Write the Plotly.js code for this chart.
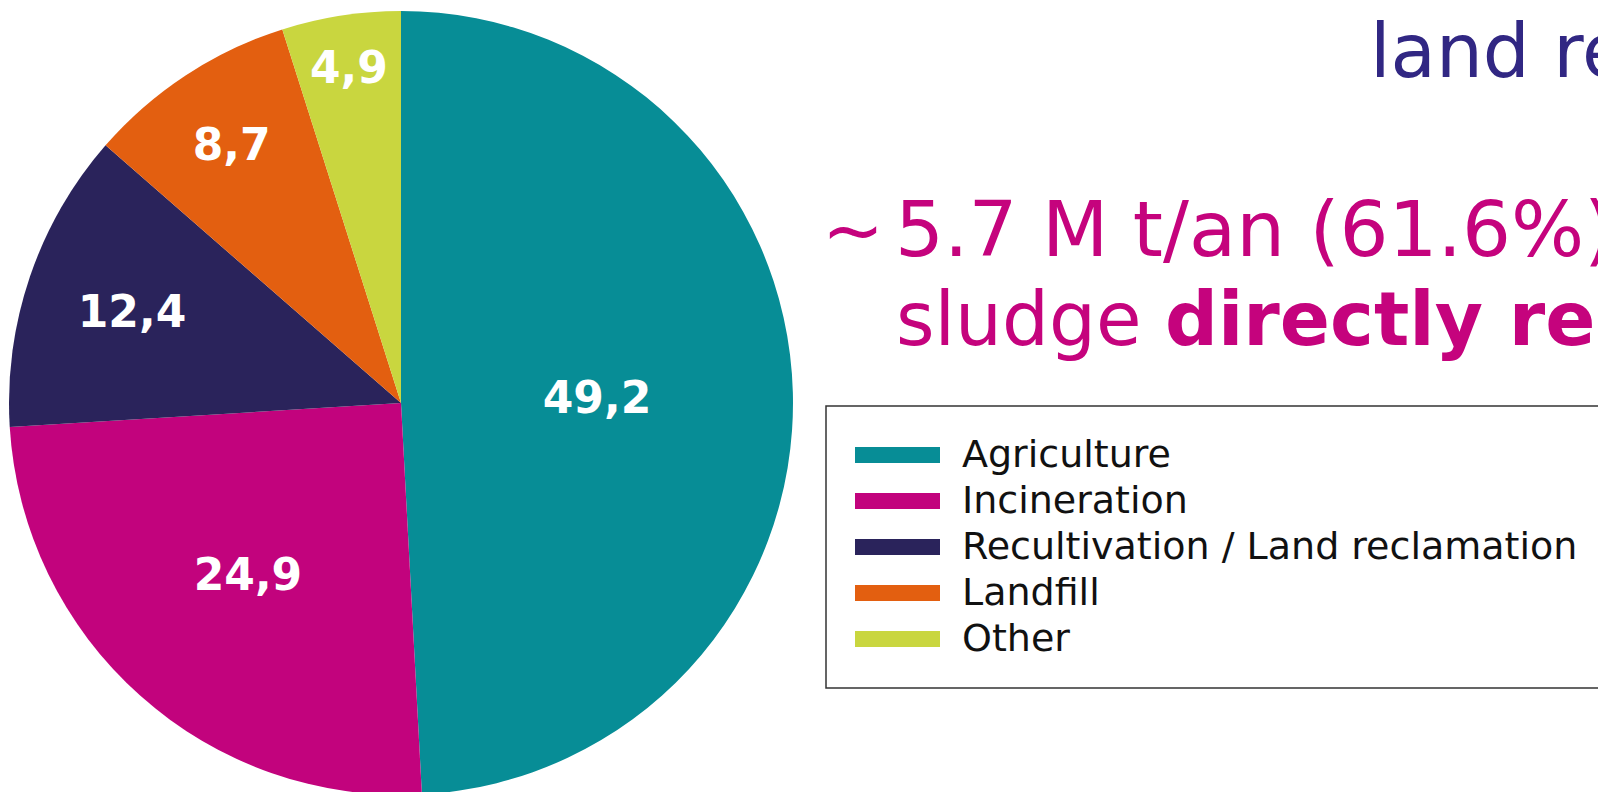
<!DOCTYPE html>
<html><head><meta charset="utf-8">
<script src="https://cdn.plot.ly/plotly-3.0.1.min.js"></script>
<style>
html,body{margin:0;padding:0;overflow:hidden;background:#fff}
#wrap{width:1598px;height:792px;overflow:hidden;position:relative}
#chart{width:1598px;height:810px}
</style></head>
<body><div id="wrap"><div id="chart"></div></div>
<script>
// ---- data ----
const categories = ["Agriculture", "Incineration", "Recultivation / Land reclamation", "Landfill", "Other"];
const shares = [49.2, 24.9, 12.4, 8.7, 4.9];
const sliceColors = ["#078D96", "#C2037D", "#2A235B", "#E35F10", "#C9D63F"];
const headingText = "land reclamation";
const tildeText = "~";
const figureLine1 = "5.7 M t/an (61.6%) of";
const figureLine2 = "sludge <b>directly reused</b>";

// ---- layout helpers ----
const W = 1598, H = 810;
const px = x => x / W;
const py = y => 1 - y / H;
const FONT = "DejaVu Sans, Verdana, sans-serif";

const pie = {
  type: "pie",
  labels: categories,
  values: shares,
  sort: false,
  direction: "clockwise",
  rotation: 0,
  marker: {colors: sliceColors, line: {width: 0}},
  texttemplate: "%{value:.1f}",
  textposition: "inside",
  insidetextorientation: "horizontal",
  textfont: {family: FONT, size: 44, color: "#ffffff", weight: "bold"},
  hoverinfo: "label+value",
  showlegend: false,
  domain: {x: [px(9), px(793)], y: [py(795), py(11)]}
};

const annotations = [
  {text: headingText, x: px(1368), y: py(51), xanchor: "left", yanchor: "middle",
   font: {family: FONT, size: 74, color: "#312783"}},
  {text: tildeText, x: px(853), y: py(230.4), xanchor: "center", yanchor: "middle",
   font: {family: FONT, size: 74, color: "#C5037D"}},
  {text: figureLine1, x: px(893), y: py(229.4), xanchor: "left", yanchor: "middle",
   font: {family: FONT, size: 77, color: "#C5037D"}},
  {text: figureLine2, x: px(894), y: py(319), xanchor: "left", yanchor: "middle",
   font: {family: FONT, size: 74, color: "#C5037D"}}
];
const shapes = [
  {type: "rect", xref: "paper", yref: "paper", x0: px(826), x1: 1.05, y0: py(688), y1: py(406),
   line: {color: "#333333", width: 1.5}, fillcolor: "rgba(0,0,0,0)"}
];
categories.forEach((c, i) => {
  const cy = 455 + 46 * i;
  shapes.push({type: "rect", xref: "paper", yref: "paper",
    x0: px(855), x1: px(940), y0: py(cy + 8), y1: py(cy - 8),
    line: {width: 0}, fillcolor: sliceColors[i]});
  annotations.push({text: c, x: px(960), y: py(cy - 1), xanchor: "left", yanchor: "middle",
    font: {family: FONT, size: 38, color: "#111111"}});
});
annotations.forEach(a => { a.xref = "paper"; a.yref = "paper"; a.showarrow = false; });

const layout = {
  width: W, height: H,
  margin: {l: 0, r: 0, t: 0, b: 0},
  paper_bgcolor: "#ffffff",
  separators: ",.",
  showlegend: false,
  annotations: annotations,
  shapes: shapes
};
Plotly.newPlot("chart", [pie], layout, {displayModeBar: false, staticPlot: true});
</script>
</body></html>
